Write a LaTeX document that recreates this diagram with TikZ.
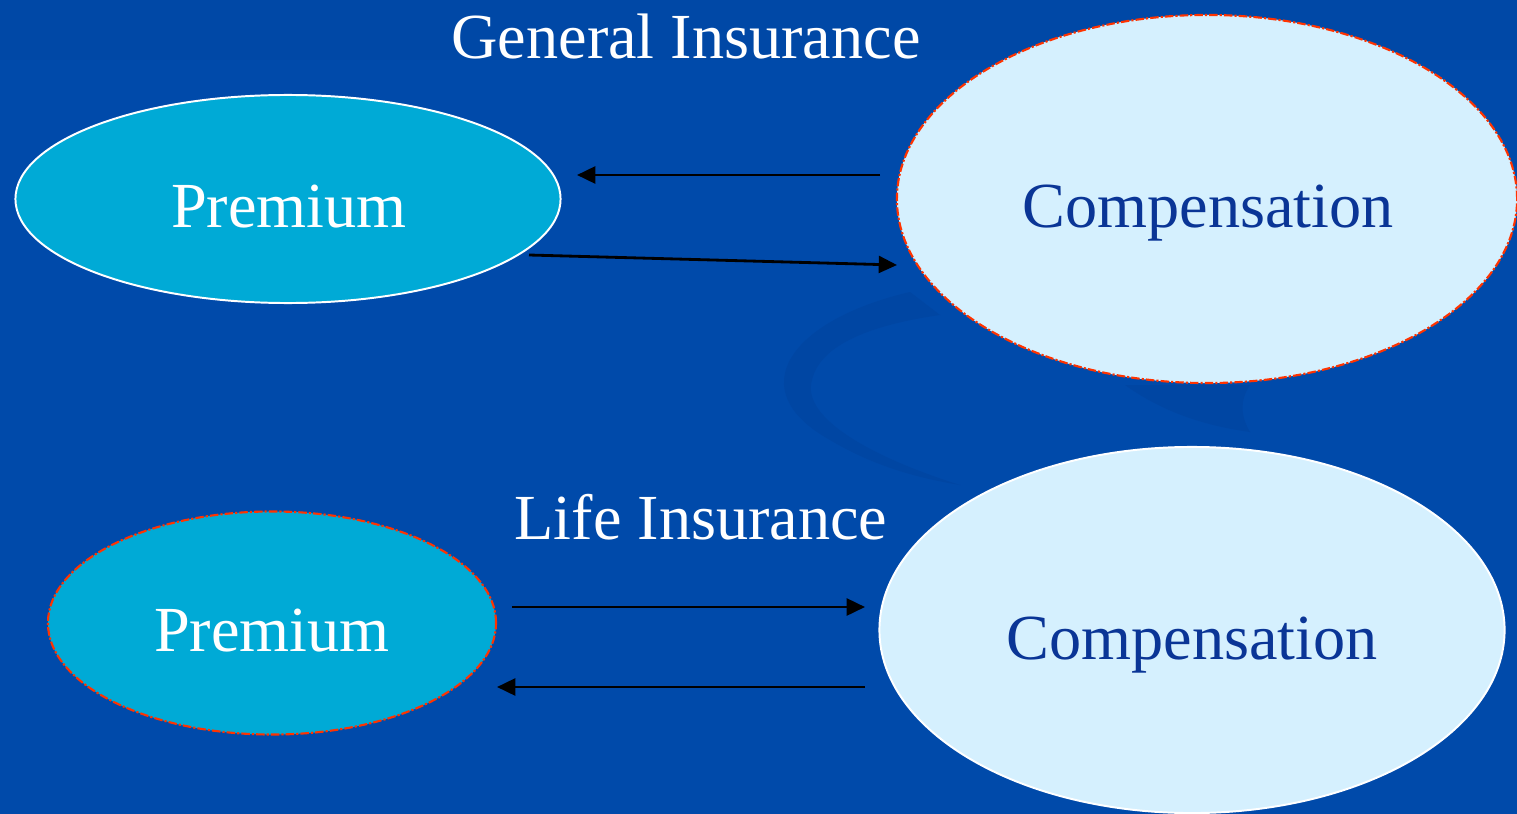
\documentclass[tikz,border=0pt]{standalone}
\usepackage{fontspec}
\setmainfont{Liberation Serif}
\usetikzlibrary{shapes.geometric,arrows.meta}
\definecolor{bgblue}{HTML}{004AAA}
\definecolor{swoosh}{HTML}{0046A3}
\definecolor{premfill}{HTML}{00AAD6}
\definecolor{compfill}{HTML}{D5F0FE}
\definecolor{comptext}{HTML}{0A3596}
\definecolor{dashred}{HTML}{FF3300}
\tikzset{
  oval/.style={ellipse, inner sep=0pt, outer sep=0pt},
  premoval/.style={oval, fill=premfill},
  compoval/.style={oval, fill=compfill},
  whiteedge/.style={draw=white, line width=1.4pt},
  rededge/.style={draw=dashred, line width=1.5pt, dash pattern=on 6pt off 1.5pt on 1.5pt off 1.5pt},
  lbl/.style={anchor=base, font=\fontsize{45.7}{52}\selectfont, inner sep=0pt},
  flow/.style={draw=black, line width=2pt, -{Triangle[length=13pt,width=12pt]}}
}
\begin{document}
\begin{tikzpicture}[x=0.025cm,y=-0.025cm]
\useasboundingbox (0,0) rectangle (1517,814);
\fill[bgblue] (0,0) rectangle (1517,814);
\fill[swoosh!60!bgblue] (0,0) rectangle (1517,60);
% faint background swoosh
\fill[swoosh] (910,292) .. controls (790,320) and (740,390) .. (830,440)
  .. controls (880,470) and (930,480) .. (960,485)
  .. controls (880,460) and (800,420) .. (812,380)
  .. controls (820,345) and (870,325) .. (940,315) -- cycle;
\fill[swoosh] (1125,385) .. controls (1160,410) and (1200,425) .. (1250,432)
  .. controls (1240,415) and (1240,400) .. (1250,385) -- cycle;

% ellipses
\node[premoval, whiteedge, minimum width=13.625cm, minimum height=5.2cm] (gp) at (288,199) {};
\node[compoval, rededge, minimum width=15.5cm, minimum height=9.2cm] (gc) at (1207,199) {};
\node[premoval, rededge, minimum width=11.2cm, minimum height=5.575cm] (lp) at (272,623) {};
\node[compoval, whiteedge, minimum width=15.625cm, minimum height=9.15cm] (lc) at (1192,630) {};

% labels
\node[lbl, text=white] (gtitle) at (686,59) {General Insurance};
\node[lbl, text=white] (ltitle) at (701,539) {Life Insurance};
\node[lbl, text=white] (gpt) at (289,227) {Premium};
\node[lbl, text=comptext] (gct) at (1208,227) {Compensation};
\node[lbl, text=white] (lpt) at (272,651) {Premium};
\node[lbl, text=comptext] (lct) at (1192,659) {Compensation};

% arrow end points
\coordinate (a1s) at (880,175);
\coordinate (a1e) at (577,175);
\coordinate (a2s) at (529,255);
\coordinate (a2e) at (897,265);
\coordinate (b1s) at (512,607);
\coordinate (b1e) at (865,607);
\coordinate (b2s) at (865,687);
\coordinate (b2e) at (497,687);

\draw[flow] (a1s) -- (a1e);
\draw[flow] (a2s) -- (a2e);
\draw[flow] (b1s) -- (b1e);
\draw[flow] (b2s) -- (b2e);
\end{tikzpicture}
\end{document}
